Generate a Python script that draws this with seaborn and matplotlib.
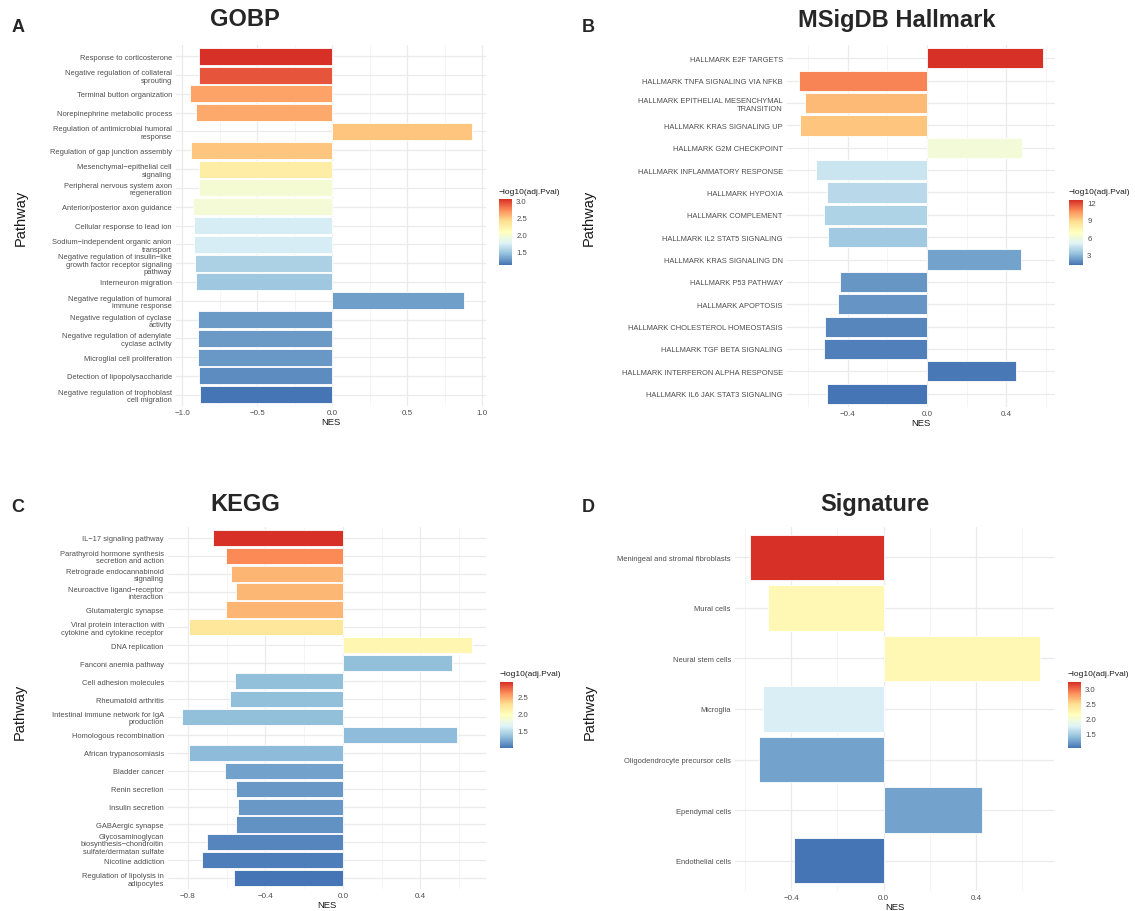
import pandas as pd
import matplotlib
matplotlib.use("Agg")
import matplotlib.pyplot as plt
import seaborn as sns
from matplotlib.colors import LinearSegmentedColormap, Normalize
from matplotlib.cm import ScalarMappable
from matplotlib.ticker import MultipleLocator

# ---- GOBP ----
gobp_terms = [
    "Response to corticosterone",
    "Negative regulation of collateral\nsprouting",
    "Terminal button organization",
    "Norepinephrine metabolic process",
    "Regulation of antimicrobial humoral\nresponse",
    "Regulation of gap junction assembly",
    "Mesenchymal\u2212epithelial cell\nsignaling",
    "Peripheral nervous system axon\nregeneration",
    "Anterior/posterior axon guidance",
    "Cellular response to lead ion",
    "Sodium\u2212independent organic anion\ntransport",
    "Negative regulation of insulin\u2212like\ngrowth factor receptor signaling\npathway",
    "Interneuron migration",
    "Negative regulation of humoral\nimmune response",
    "Negative regulation of cyclase\nactivity",
    "Negative regulation of adenylate\ncyclase activity",
    "Microglial cell proliferation",
    "Detection of lipopolysaccharide",
    "Negative regulation of trophoblast\ncell migration",
]
gobp_nes = [-0.89, -0.89, -0.947, -0.907, 0.93, -0.94, -0.89, -0.887, -0.927, -0.92,
            -0.92, -0.913, -0.907, 0.88, -0.893, -0.893, -0.893, -0.887, -0.88]
gobp_logp = [3.03, 2.9, 2.62, 2.6, 2.5, 2.5, 2.25, 1.97, 1.95, 1.72,
             1.72, 1.55, 1.5, 1.3, 1.28, 1.28, 1.27, 1.22, 1.12]

# ---- MSigDB Hallmark ----
hallmark_terms = [
    "HALLMARK E2F TARGETS",
    "HALLMARK TNFA SIGNALING VIA NFKB",
    "HALLMARK EPITHELIAL MESENCHYMAL\nTRANSITION",
    "HALLMARK KRAS SIGNALING UP",
    "HALLMARK G2M CHECKPOINT",
    "HALLMARK INFLAMMATORY RESPONSE",
    "HALLMARK HYPOXIA",
    "HALLMARK COMPLEMENT",
    "HALLMARK IL2 STAT5 SIGNALING",
    "HALLMARK KRAS SIGNALING DN",
    "HALLMARK P53 PATHWAY",
    "HALLMARK APOPTOSIS",
    "HALLMARK CHOLESTEROL HOMEOSTASIS",
    "HALLMARK TGF BETA SIGNALING",
    "HALLMARK INTERFERON ALPHA RESPONSE",
    "HALLMARK IL6 JAK STAT3 SIGNALING",
]
hallmark_nes = [0.584, -0.644, -0.613, -0.642, 0.48, -0.561, -0.504, -0.518,
                -0.498, 0.473, -0.44, -0.447, -0.513, -0.52, 0.449, -0.502]
hallmark_logp = [12.5, 10.8, 9.6, 9.3, 6.0, 4.4, 4.0, 3.7,
                 3.4, 2.3, 2.0, 1.95, 1.6, 1.4, 1.25, 1.12]

# ---- KEGG ----
kegg_terms = [
    "IL\u221217 signaling pathway",
    "Parathyroid hormone synthesis\nsecretion and action",
    "Retrograde endocannabinoid\nsignaling",
    "Neuroactive ligand\u2212receptor\ninteraction",
    "Glutamatergic synapse",
    "Viral protein interaction with\ncytokine and cytokine receptor",
    "DNA replication",
    "Fanconi anemia pathway",
    "Cell adhesion molecules",
    "Rheumatoid arthritis",
    "Intestinal immune network for IgA\nproduction",
    "Homologous recombination",
    "African trypanosomiasis",
    "Bladder cancer",
    "Renin secretion",
    "Insulin secretion",
    "GABAergic synapse",
    "Glycosaminoglycan\nbiosynthesis\u2212chondroitin\nsulfate/dermatan sulfate",
    "Nicotine addiction",
    "Regulation of lipolysis in\nadipocytes",
]
kegg_nes = [-0.671, -0.602, -0.577, -0.554, -0.601, -0.792, 0.665, 0.562, -0.558, -0.58,
            -0.828, 0.588, -0.795, -0.609, -0.549, -0.54, -0.551, -0.70, -0.726, -0.563]
kegg_logp = [2.94, 2.62, 2.45, 2.44, 2.45, 2.2, 2.05, 1.3, 1.3, 1.3,
             1.3, 1.28, 1.27, 1.16, 1.12, 1.12, 1.09, 1.03, 1.0, 0.96]

# ---- Signature ----
sig_terms = [
    "Meningeal and stromal fibroblasts",
    "Mural cells",
    "Neural stem cells",
    "Microglia",
    "Oligodendrocyte precursor cells",
    "Ependymal cells",
    "Endothelial cells",
]
sig_nes = [-0.58, -0.50, 0.675, -0.523, -0.539, 0.424, -0.389]
sig_logp = [3.22, 2.2, 2.2, 1.72, 1.25, 1.25, 1.02]

W, H = 1135, 912
rdylbu = LinearSegmentedColormap.from_list(
    "rdylbu", ["#4575B4", "#91BFDB", "#E0F3F8", "#FFFFBF", "#FEE090", "#FC8D59", "#D73027"])

sns.set_theme(style="white")
plt.rcParams['font.family'] = ['Liberation Sans', 'DejaVu Sans']


def box(x0, y0, x1, y1):
    return [x0 / W, 1 - y1 / H, (x1 - x0) / W, (y1 - y0) / H]


def gseaPanel(fig, terms, nes, logp, panel, cbar, major, cticks, cfmt):
    df = pd.DataFrame({"Pathway": terms, "NES": nes, "logp": logp})
    norm = Normalize(min(logp), max(logp))
    pal = {t: rdylbu(norm(v)) for t, v in zip(terms, logp)}

    ax = fig.add_axes(box(*panel))
    ax.set_axisbelow(True)
    sns.barplot(data=df, x="NES", y="Pathway", hue="Pathway", palette=pal, orient="h",
                width=0.9, saturation=1, edgecolor="white", linewidth=0.6, legend=False, ax=ax)
    lo, hi = min(min(nes), 0), max(max(nes), 0)
    pad = 0.05 * (hi - lo)
    ax.set_xlim(lo - pad, hi + pad)
    ax.set_ylim(len(terms) - 0.4, -0.6)

    ax.xaxis.set_major_locator(MultipleLocator(major))
    ax.xaxis.set_minor_locator(MultipleLocator(major / 2))
    ax.grid(which="major", axis="both", color="#EBEBEB", lw=0.9)
    ax.grid(which="minor", axis="x", color="#F2F2F2", lw=0.5)
    for s in ax.spines.values():
        s.set_visible(False)
    ax.tick_params(axis="both", which="both", length=0, colors="#4D4D4D")
    ax.tick_params(axis="y", labelsize=5.4, pad=3)
    ax.tick_params(axis="x", labelsize=5.8, pad=2)
    for lab in ax.get_yticklabels():
        lab.set_linespacing(1.1)
    ax.set_ylabel("")
    ax.set_xlabel("NES", fontsize=6.8, labelpad=1, color="#1A1A1A")

    cax = fig.add_axes(box(*cbar))
    cb = fig.colorbar(ScalarMappable(norm=norm, cmap=rdylbu), cax=cax)
    cb.outline.set_visible(False)
    cb.set_ticks(cticks)
    cb.set_ticklabels([cfmt.format(t) for t in cticks])
    cax.tick_params(color="white", labelcolor="#4D4D4D", labelsize=5.6, length=2.5,
                    width=0.5, direction="in", pad=3)
    fig.text(cbar[0] / W, 1 - (cbar[1] - 8) / H, "\u2212log10(adj.Pval)", fontsize=6,
             color="#1A1A1A", ha="left", va="center")
    return ax


fig = plt.figure(figsize=(W / 100, H / 100), dpi=100)

gseaPanel(fig, gobp_terms, gobp_nes, gobp_logp, (176, 46, 486, 407), (499, 200, 512, 266),
          0.5, [1.5, 2.0, 2.5, 3.0], "{:.1f}")
gseaPanel(fig, hallmark_terms, hallmark_nes, hallmark_logp, (787, 46, 1055, 408), (1069, 201, 1083, 266),
          0.4, [3, 6, 9, 12], "{:d}")
gseaPanel(fig, kegg_terms, kegg_nes, kegg_logp, (168, 528, 486, 890), (500, 683, 513, 749),
          0.4, [1.5, 2.0, 2.5], "{:.1f}")
gseaPanel(fig, sig_terms, sig_nes, sig_logp, (735, 528, 1054, 892), (1068, 683, 1081, 749),
          0.4, [1.5, 2.0, 2.5, 3.0], "{:.1f}")

titles = [("A", "GOBP", 18, 28, 245, 20), ("B", "MSigDB Hallmark", 588, 28, 897, 20),
          ("C", "KEGG", 18, 508, 245, 505), ("D", "Signature", 588, 508, 875, 505)]
for letter, title, lx, ly, tx, ty in titles:
    fig.text(lx / W, 1 - ly / H, letter, fontsize=13, fontweight="bold", ha="center", va="center")
    fig.text(tx / W, 1 - ty / H, title, fontsize=17, fontweight="bold", ha="center", va="center")

for px, py in [(21, 218), (589, 218), (20, 712), (590, 712)]:
    fig.text(px / W, 1 - py / H, "Pathway", fontsize=10.5, rotation=90, ha="center", va="center",
             color="#1A1A1A")

fig.savefig("out.png", dpi=100)
